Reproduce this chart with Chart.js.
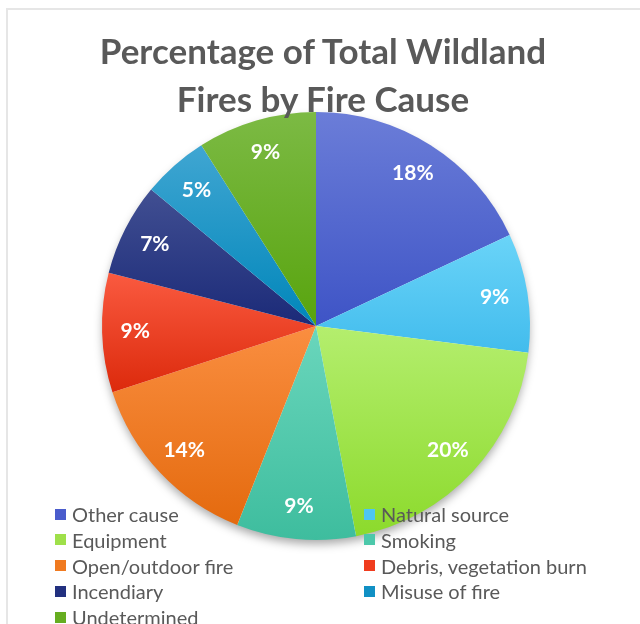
<!DOCTYPE html>
<html>
<head>
<meta charset="utf-8">
<script src="https://cdn.jsdelivr.net/npm/chart.js@4/dist/chart.umd.min.js"></script>
<style>
  html, body { margin:0; padding:0; background:#fff; }
  #wrap { position:relative; width:640px; height:624px; overflow:hidden; font-family:Lato, "Open Sans", sans-serif; }
  #frame { position:absolute; left:6px; top:8px; width:700px; height:700px; border:2px solid #e6e6e6; box-sizing:border-box; }
  canvas { position:absolute; left:0; top:0; }
  #title { position:absolute; left:0; top:26px; width:646px; text-align:center; color:#595959; font-weight:bold; font-size:35px; line-height:48px; }
  .lg { position:absolute; display:flex; align-items:center; height:26px; font-size:20px; color:#595959; white-space:nowrap; }
  .lg span.sw { display:inline-block; width:11px; height:11px; margin-right:6px; }
</style>
</head>
<body>
<div id="wrap">
  <div id="frame"></div>
  <canvas id="c" width="640" height="624"></canvas>
  <div id="title"></div>
  <div id="legend"></div>
</div>
<script>
const titleLines = ['Percentage of Total Wildland', 'Fires by Fire Cause'];
const categories = ['Other cause','Natural source','Equipment','Smoking','Open/outdoor fire','Debris, vegetation burn','Incendiary','Misuse of fire','Undetermined'];
const percentValues = [18, 9, 20, 9, 14, 9, 7, 5, 9];
const topColors    = ['#6b7dd8','#6ad4f8','#b4ee6e','#6ad6bc','#fa8e40','#fa5a40','#414f92','#40a6d2','#7cba44'];
const bottomColors = ['#3e54c6','#42bced','#8cda2c','#3ebd9e','#e46a0e','#dc2a0c','#1b2a78','#0086ba','#58a40e'];
const legendColors = ['#4a5ccc','#4dc6f2','#9fe04a','#4cc8aa','#f07a20','#f03c1e','#22307f','#1190c4','#66ad20'];

// title (HTML)
const titleEl = document.getElementById('title');
titleLines.forEach((t, i) => {
  if (i) titleEl.appendChild(document.createElement('br'));
  titleEl.appendChild(document.createTextNode(t));
});

// legend (HTML)
const legend = document.getElementById('legend');
categories.forEach((name, i) => {
  const col = i % 2, row = Math.floor(i / 2);
  const d = document.createElement('div');
  d.className = 'lg';
  d.style.left = (col === 0 ? 55 : 364) + 'px';
  d.style.top = (514 - 13 + row * 25.8) + 'px';
  const sw = document.createElement('span');
  sw.className = 'sw';
  sw.style.background = legendColors[i];
  d.appendChild(sw);
  d.appendChild(document.createTextNode(name));
  legend.appendChild(d);
});

function sliceGradient(ctx) {
  const chart = ctx.chart;
  const i = ctx.dataIndex;
  const ca = chart.chartArea;
  if (!ca || i === undefined) return legendColors[i || 0];
  const cx = (ca.left + ca.right) / 2, cy = (ca.top + ca.bottom) / 2;
  const r = Math.min(ca.right - ca.left, ca.bottom - ca.top) / 2;
  const total = percentValues.reduce((a, b) => a + b, 0);
  let before = 0;
  for (let k = 0; k < i; k++) before += percentValues[k];
  const a0 = -Math.PI / 2 + before / total * 2 * Math.PI;
  const a1 = a0 + percentValues[i] / total * 2 * Math.PI;
  let ymin = cy, ymax = cy;
  for (let s = 0; s <= 60; s++) {
    const a = a0 + (a1 - a0) * s / 60;
    const y = cy + r * Math.sin(a);
    ymin = Math.min(ymin, y); ymax = Math.max(ymax, y);
  }
  const g = chart.ctx.createLinearGradient(0, ymin, 0, ymax);
  g.addColorStop(0, topColors[i]);
  g.addColorStop(1, bottomColors[i]);
  return g;
}

const shadowPlugin = {
  id: 'pieShadow',
  beforeDatasetsDraw(chart) {
    const arc = chart.getDatasetMeta(0).data[0];
    if (!arc) return;
    const c = chart.ctx;
    c.save();
    c.shadowColor = 'rgba(0,0,0,0.35)';
    c.shadowBlur = 10;
    c.shadowOffsetY = 5;
    c.beginPath();
    c.arc(arc.x, arc.y, arc.outerRadius - 1, 0, Math.PI * 2);
    c.fillStyle = '#ffffff';
    c.fill();
    c.restore();
  }
};

const labelPlugin = {
  id: 'pctLabels',
  afterDatasetsDraw(chart) {
    const c = chart.ctx;
    const meta = chart.getDatasetMeta(0);
    c.save();
    c.fillStyle = '#ffffff';
    c.font = 'bold 21px Lato, "Open Sans", sans-serif';
    c.textAlign = 'center';
    c.textBaseline = 'middle';
    meta.data.forEach((arc, i) => {
      const mid = (arc.startAngle + arc.endAngle) / 2;
      const rr = arc.outerRadius * 0.845;
      c.fillText(percentValues[i] + '%', arc.x + rr * Math.cos(mid), arc.y + rr * Math.sin(mid));
    });
    c.restore();
  }
};

new Chart(document.getElementById('c'), {
  type: 'pie',
  data: {
    labels: categories,
    datasets: [{
      data: percentValues,
      backgroundColor: sliceGradient,
      borderWidth: 0
    }]
  },
  options: {
    responsive: false,
    animation: false,
    layout: { padding: { left: 102, right: 110, top: 112, bottom: 84 } },
    plugins: {
      legend: { display: false },
      tooltip: { enabled: false },
      title: { display: false }
    }
  },
  plugins: [shadowPlugin, labelPlugin]
});
</script>
</body>
</html>
